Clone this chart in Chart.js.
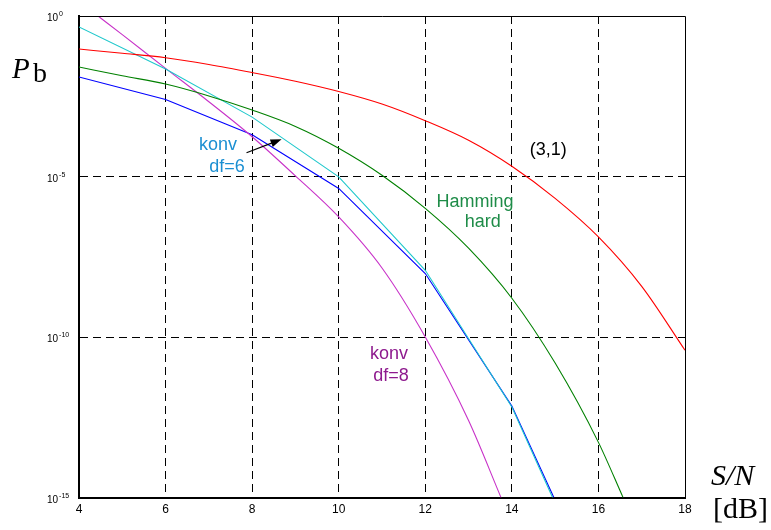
<!DOCTYPE html>
<html>
<head>
<meta charset="utf-8">
<script src="https://cdn.jsdelivr.net/npm/chart.js@4"></script>
<style>
  body { margin: 0; background: #fff; }
  #wrap { width: 771px; height: 530px; }
</style>
</head>
<body>
<div id="wrap"><canvas id="pb" width="771" height="530"></canvas></div>
<script>
// S/N in dB, values are log10 of the bit error probability
const snr = [4, 5, 6, 7, 8, 9, 10, 11, 12, 13, 14, 15, 16, 17, 18];

const rep31 = [-1.03, -1.16, -1.30, -1.51, -1.76, -2.03, -2.35, -2.74, -3.26, -3.87, -4.68, -5.68, -6.88, -8.42, -10.41];

const hammingX = [4, 5, 6, 7, 8, 9, 10, 11, 12, 13, 14, 15, 16, 16.57];
const hammingHard = [-1.59, -1.86, -2.12, -2.49, -2.93, -3.44, -4.12, -4.96, -5.99, -7.23, -8.79, -10.81, -13.28, -15];

// the two df=6 curves bend only at the even dB points
const cyanX = [4, 6, 8, 10, 12, 14, 14.94];
const konvCyan = [-0.34, -1.65, -3.15, -5.01, -7.92, -12.18, -15];

const blueX = [4, 6, 8, 10, 12, 14, 14.97];
const konvBlue = [-1.90, -2.60, -3.70, -5.37, -8.02, -12.15, -15];

const df8X = [4.44, 5, 6, 7, 8, 9, 10, 11, 12, 13, 13.75];
const konvDf8 = [0, -0.58, -1.63, -2.67, -3.76, -4.98, -6.26, -7.85, -10.0, -12.6, -15];

const xTicks = [4, 6, 8, 10, 12, 14, 16, 18];
const yTicks = [-15, -10, -5, 0];

// text labels placed in data coordinates (x in dB, y as log10)
const notes = [
    { text: 'konv', x: 7.21, y: -4.18, color: '#1b8fd2' },
    { text: 'df=6', x: 7.42, y: -4.87, color: '#1b8fd2' },
    { text: 'Hamming', x: 13.15, y: -5.96, color: '#1e8c48' },
    { text: 'hard', x: 13.33, y: -6.58, color: '#1e8c48' },
    { text: '(3,1)', x: 14.84, y: -4.34, color: '#000' },
    { text: 'konv', x: 11.16, y: -10.67, color: '#8e1a8e' },
    { text: 'df=8', x: 11.21, y: -11.38, color: '#8e1a8e' }
];
const arrow = { from: [7.87, -4.26], to: [8.68, -3.84] };

function toPoints(xs, logs) {
    return logs.map((v, i) => ({ x: xs[i], y: Math.pow(10, v) }));
}

function series(label, xs, logs, color, smooth) {
    return {
        label: label,
        data: toPoints(xs, logs),
        borderColor: color,
        borderWidth: 1.1,
        pointRadius: 0,
        fill: false,
        tension: 0,
        cubicInterpolationMode: smooth ? 'monotone' : 'default'
    };
}

const decor = {
    id: 'decor',
    afterDraw(chart) {
        const c = chart.ctx;
        const a = chart.chartArea;
        const xs = chart.scales.x;
        const ys = chart.scales.y;
        c.save();

        // thin top and right frame lines
        c.strokeStyle = '#000';
        c.lineWidth = 1;
        c.beginPath();
        c.moveTo(a.left, a.top + 0.5);
        c.lineTo(a.right + 0.5, a.top + 0.5);
        c.lineTo(a.right + 0.5, a.bottom);
        c.stroke();

        // y tick labels as 10 with a raised exponent
        c.fillStyle = '#000';
        c.textAlign = 'left';
        c.textBaseline = 'alphabetic';
        yTicks.forEach(e => {
            const py = ys.getPixelForValue(Math.pow(10, e));
            c.font = '10px "Liberation Sans", Arial, sans-serif';
            c.fillText('10', 47, py + 5);
            const w = c.measureText('10').width;
            c.font = '7px "Liberation Sans", Arial, sans-serif';
            c.fillText(String(e), 47 + w + 1, py);
        });

        // notes inside the plot
        c.textAlign = 'center';
        c.font = '18px "Liberation Sans", Arial, sans-serif';
        notes.forEach(n => {
            c.fillStyle = n.color;
            c.fillText(n.text, xs.getPixelForValue(n.x), ys.getPixelForValue(Math.pow(10, n.y)));
        });

        // arrow pointing at the df=6 curve
        const x0 = xs.getPixelForValue(arrow.from[0]);
        const y0 = ys.getPixelForValue(Math.pow(10, arrow.from[1]));
        const x1 = xs.getPixelForValue(arrow.to[0]);
        const y1 = ys.getPixelForValue(Math.pow(10, arrow.to[1]));
        const ang = Math.atan2(y1 - y0, x1 - x0);
        c.strokeStyle = '#000';
        c.fillStyle = '#000';
        c.lineWidth = 1.2;
        c.beginPath();
        c.moveTo(x0, y0);
        c.lineTo(x1 - 8 * Math.cos(ang), y1 - 8 * Math.sin(ang));
        c.stroke();
        c.beginPath();
        c.moveTo(x1, y1);
        c.lineTo(x1 - 11 * Math.cos(ang) + 4 * Math.sin(ang), y1 - 11 * Math.sin(ang) - 4 * Math.cos(ang));
        c.lineTo(x1 - 11 * Math.cos(ang) - 4 * Math.sin(ang), y1 - 11 * Math.sin(ang) + 4 * Math.cos(ang));
        c.closePath();
        c.fill();

        // axis titles
        c.textAlign = 'left';
        c.fillStyle = '#000';
        c.font = 'italic 29px "Liberation Serif", "Times New Roman", serif';
        c.fillText('P', 12, 78);
        c.font = 'italic 30px "Liberation Serif", "Times New Roman", serif';
        c.fillText('S/N', 711, 485);
        c.font = '28px "Liberation Serif", "Times New Roman", serif';
        c.fillText('b', 33, 82);
        c.font = '30px "Liberation Serif", "Times New Roman", serif';
        c.fillText('[dB]', 713, 518);
        c.restore();
    }
};

const ctx = document.getElementById('pb').getContext('2d');
const chart = new Chart(ctx, {
    type: 'line',
    data: {
        datasets: [
            series('(3,1)', snr, rep31, '#ff0000', true),
            series('Hamming hard', hammingX, hammingHard, '#008000', true),
            series('konv', cyanX, konvCyan, '#1fc8cc', false),
            series('konv df=8', df8X, konvDf8, '#c832c8', true),
            series('konv df=6', blueX, konvBlue, '#0000ff', false)
        ]
    },
    options: {
        responsive: false,
        animation: false,
        layout: { padding: { left: 79, right: 86, top: 16, bottom: 8 } },
        plugins: {
            legend: { display: false },
            tooltip: { enabled: false }
        },
        scales: {
            x: {
                type: 'linear',
                min: 4,
                max: 18,
                afterBuildTicks: s => { s.ticks = xTicks.map(v => ({ value: v })); },
                ticks: {
                    color: '#000',
                    padding: 5,
                    font: { family: '"Liberation Sans", Arial, sans-serif', size: 12 },
                    maxRotation: 0
                },
                grid: {
                    drawTicks: false,
                    lineWidth: 1,
                    color: c => (c.index === 0 || c.index === xTicks.length - 1) ? 'rgba(0,0,0,0)' : '#000'
                },
                border: { display: true, color: '#000', width: 2, dash: [8, 5] }
            },
            y: {
                type: 'logarithmic',
                min: 1e-15,
                max: 1,
                afterBuildTicks: s => { s.ticks = yTicks.map(e => ({ value: Math.pow(10, e) })); },
                ticks: { display: false },
                grid: {
                    drawTicks: false,
                    lineWidth: 1,
                    color: c => (c.index === 0 || c.index === yTicks.length - 1) ? 'rgba(0,0,0,0)' : '#000'
                },
                border: { display: true, color: '#000', width: 2, dash: [8, 5] }
            }
        }
    },
    plugins: [decor]
});
</script>
</body>
</html>
